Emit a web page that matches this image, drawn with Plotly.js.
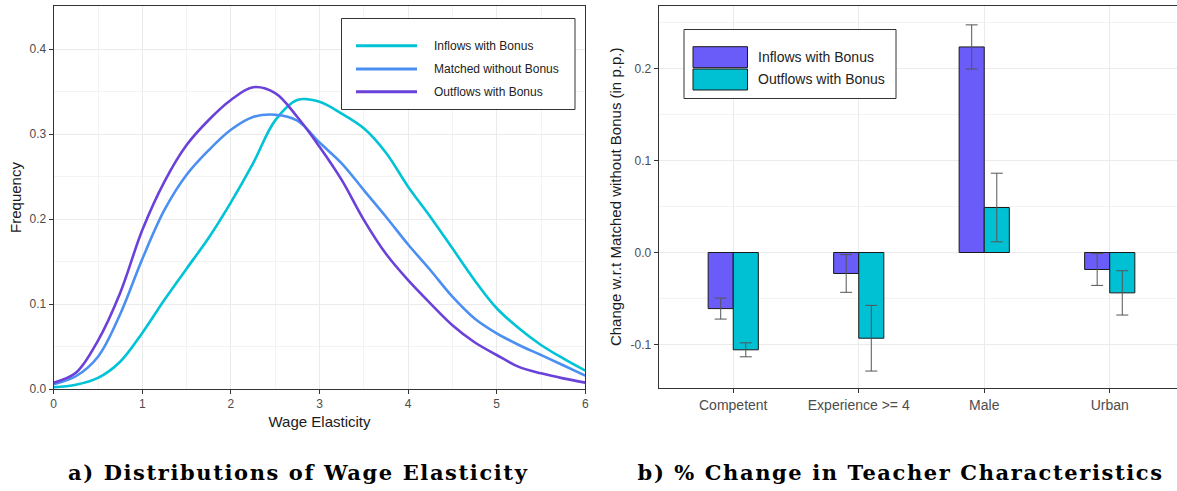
<!DOCTYPE html>
<html>
<head>
<meta charset="utf-8">
<script src="https://cdn.plot.ly/plotly-3.0.1.min.js"></script>
<style>
  html, body { margin: 0; padding: 0; background: #ffffff; }
  #chart { width: 1177px; height: 491px; }
</style>
</head>
<body>
<div id="chart"></div>
<script>
// ---------- Panel a) data: density of wage elasticity ----------
const elasticity = [0, 0.25, 0.5, 0.75, 1, 1.25, 1.5, 1.75, 2, 2.25, 2.5, 2.75, 3, 3.25, 3.5, 3.75, 4, 4.25, 4.5, 4.75, 5, 5.25, 5.5, 5.75, 6];
const inflowsDensity  = [0.002, 0.005, 0.013, 0.032, 0.066, 0.105, 0.1416, 0.178, 0.2196, 0.2655, 0.316, 0.340, 0.338, 0.324, 0.3067, 0.278, 0.238, 0.2027, 0.1655, 0.128, 0.095, 0.0714, 0.0518, 0.036, 0.0216];
const matchedDensity  = [0.0055, 0.015, 0.038, 0.088, 0.153, 0.2106, 0.252, 0.281, 0.305, 0.320, 0.3227, 0.3157, 0.290, 0.2655, 0.234, 0.2027, 0.170, 0.140, 0.1086, 0.083, 0.0655, 0.0518, 0.040, 0.028, 0.0157];
const outflowsDensity = [0.0075, 0.019, 0.057, 0.113, 0.187, 0.244, 0.287, 0.3165, 0.340, 0.355, 0.348, 0.320, 0.285, 0.246, 0.199, 0.159, 0.128, 0.1008, 0.075, 0.055, 0.040, 0.026, 0.0184, 0.0125, 0.0075];
const densitySeries = ['Inflows with Bonus', 'Matched without Bonus', 'Outflows with Bonus'];
const densityTicksY = [0, 0.1, 0.2, 0.3, 0.4];
const densityTickTextY = ['0.0', '0.1', '0.2', '0.3', '0.4'];
const densityTicksX = [0, 1, 2, 3, 4, 5, 6];

// ---------- Panel b) data: change in teacher characteristics ----------
const characteristics = ['Competent', 'Experience >= 4', 'Male', 'Urban'];
const inflowChange   = [-0.061, -0.0228, 0.2235, -0.0185];
const inflowError    = [0.0114, 0.0205, 0.024, 0.0173];
const outflowChange  = [-0.1058, -0.0932, 0.0489, -0.0439];
const outflowError   = [0.0076, 0.0357, 0.0373, 0.0241];
const barSeries = ['Inflows with Bonus', 'Outflows with Bonus'];
const changeTicks = [-0.1, 0, 0.1, 0.2];
const changeTickText = ['-0.1', '0.0', '0.1', '0.2'];

const captions = ['a) Distributions of Wage Elasticity', 'b) % Change in Teacher Characteristics'];

// ---------- styles ----------
const W = 1177, H = 491;
const lineColors = ['#00C3D6', '#4B8FF2', '#6A41D9'];
const barColors = ['#6A5CF9', '#00C0D4'];
const font = 'Liberation Sans, Arial, sans-serif';
const tickColor = '#4D4D4D';
const borderColor = '#333333';
const gridMajor = '#EBEBEB';
const gridMinor = '#F3F3F3';

const px = (x) => x / W;
const py = (y) => (H - y) / H;

const densityY = [inflowsDensity, matchedDensity, outflowsDensity];
const traces = densitySeries.map((name, i) => ({
  type: 'scatter', mode: 'lines', name: name,
  x: elasticity, y: densityY[i],
  xaxis: 'x', yaxis: 'y',
  line: { color: lineColors[i], width: 2.6, shape: 'spline', smoothing: 1 },
  showlegend: false
}));

const barY = [inflowChange, outflowChange];
const barErr = [inflowError, outflowError];
barSeries.forEach((name, i) => {
  traces.push({
    type: 'bar', name: name,
    x: characteristics, y: barY[i],
    xaxis: 'x2', yaxis: 'y2',
    marker: { color: barColors[i], line: { color: '#1A1A1A', width: 1 } },
    error_y: { type: 'data', array: barErr[i], visible: true, color: '#555555', thickness: 1, width: 6 },
    showlegend: false
  });
});

const axisCommon = {
  showline: true, linecolor: borderColor, linewidth: 1, mirror: true,
  ticks: 'outside', ticklen: 4, tickcolor: borderColor, tickwidth: 1,
  tickfont: { family: font, size: 12, color: tickColor },
  gridcolor: gridMajor, gridwidth: 1, zeroline: false
};

const shapes = [];
const annotations = [];

// Legend panel a)
shapes.push({ type: 'rect', xref: 'paper', yref: 'paper', x0: px(341.5), x1: px(575), y0: py(18.5), y1: py(109.5),
  line: { color: borderColor, width: 1 }, fillcolor: '#ffffff', layer: 'above' });
const legA_y = [45.7, 69, 91.7];
densitySeries.forEach((name, i) => {
  shapes.push({ type: 'line', xref: 'paper', yref: 'paper', x0: px(356), x1: px(417), y0: py(legA_y[i]), y1: py(legA_y[i]),
    line: { color: lineColors[i], width: 3 }, layer: 'above' });
  annotations.push({ xref: 'paper', yref: 'paper', x: px(432), y: py(legA_y[i]), xanchor: 'left', yanchor: 'middle',
    text: name, showarrow: false, font: { family: font, size: 12, color: '#222222' } });
});

// Legend panel b)
shapes.push({ type: 'rect', xref: 'paper', yref: 'paper', x0: px(684), x1: px(896), y0: py(29.5), y1: py(98.5),
  line: { color: borderColor, width: 1 }, fillcolor: '#ffffff', layer: 'above' });
const legB_top = [46.7, 69];
barSeries.forEach((name, i) => {
  shapes.push({ type: 'rect', xref: 'paper', yref: 'paper', x0: px(693), x1: px(747.5), y0: py(legB_top[i]), y1: py(legB_top[i] + 21),
    line: { color: '#1A1A1A', width: 1 }, fillcolor: barColors[i], layer: 'above' });
  annotations.push({ xref: 'paper', yref: 'paper', x: px(756), y: py(legB_top[i] + 10.5), xanchor: 'left', yanchor: 'middle',
    text: name, showarrow: false, font: { family: font, size: 14, color: '#222222' } });
});

// Captions
const captionX = [298, 900];
captions.forEach((t, i) => {
  annotations.push({ xref: 'paper', yref: 'paper', x: px(captionX[i]), y: py(472), xanchor: 'center', yanchor: 'middle',
    text: t, showarrow: false,
    font: { family: 'DejaVu Serif, serif', size: 21, color: '#000000', weight: 'bold' } });
});

const layout = {
  width: W, height: H,
  margin: { l: 0, r: 0, t: 0, b: 0, pad: 0 },
  paper_bgcolor: '#ffffff', plot_bgcolor: '#ffffff',
  showlegend: false,
  barmode: 'group', bargap: 0.6, bargroupgap: 0,
  xaxis: Object.assign({}, axisCommon, {
    domain: [px(53.7), px(585.3)], anchor: 'y',
    range: [0, 6], tickvals: densityTicksX,
    minor: { dtick: 0.5, showgrid: true, gridcolor: gridMinor, gridwidth: 1, ticks: '' },
    title: { text: 'Wage Elasticity', font: { family: font, size: 15, color: '#1A1A1A' }, standoff: 6 }
  }),
  yaxis: Object.assign({}, axisCommon, {
    domain: [py(389), py(6)], anchor: 'x',
    range: [0, 0.4506], tickvals: densityTicksY, ticktext: densityTickTextY,
    minor: { dtick: 0.05, tick0: 0, showgrid: true, gridcolor: gridMinor, gridwidth: 1, ticks: '' },
    title: { text: 'Frequency', font: { family: font, size: 15, color: '#1A1A1A' }, standoff: 4 }
  }),
  xaxis2: Object.assign({}, axisCommon, {
    domain: [px(658.7), 1], anchor: 'y2',
    type: 'category', range: [-0.594, 3.536],
    tickfont: { family: font, size: 14, color: tickColor },
    title: { text: '' }
  }),
  yaxis2: Object.assign({}, axisCommon, {
    domain: [py(387.7), py(6)], anchor: 'x2',
    range: [-0.147, 0.268], tickvals: changeTicks, ticktext: changeTickText,
    minor: { dtick: 0.05, tick0: 0, showgrid: true, gridcolor: gridMinor, gridwidth: 1, ticks: '' },
    title: { text: 'Change w.r.t Matched without Bonus (in p.p.)', font: { family: font, size: 15, color: '#1A1A1A' }, standoff: 5 }
  }),
  shapes: shapes,
  annotations: annotations
};

Plotly.newPlot('chart', traces, layout, { staticPlot: true, displayModeBar: false }).then(() => {
  // widen the caption lettering to match the original's wide bold serif
  document.querySelectorAll('.annotation-text').forEach((el) => {
    if (captions.indexOf(el.textContent) >= 0) {
      el.style.letterSpacing = '1.6px';
      el.setAttribute('text-anchor', 'middle');
    }
  });
});
</script>
</body>
</html>
